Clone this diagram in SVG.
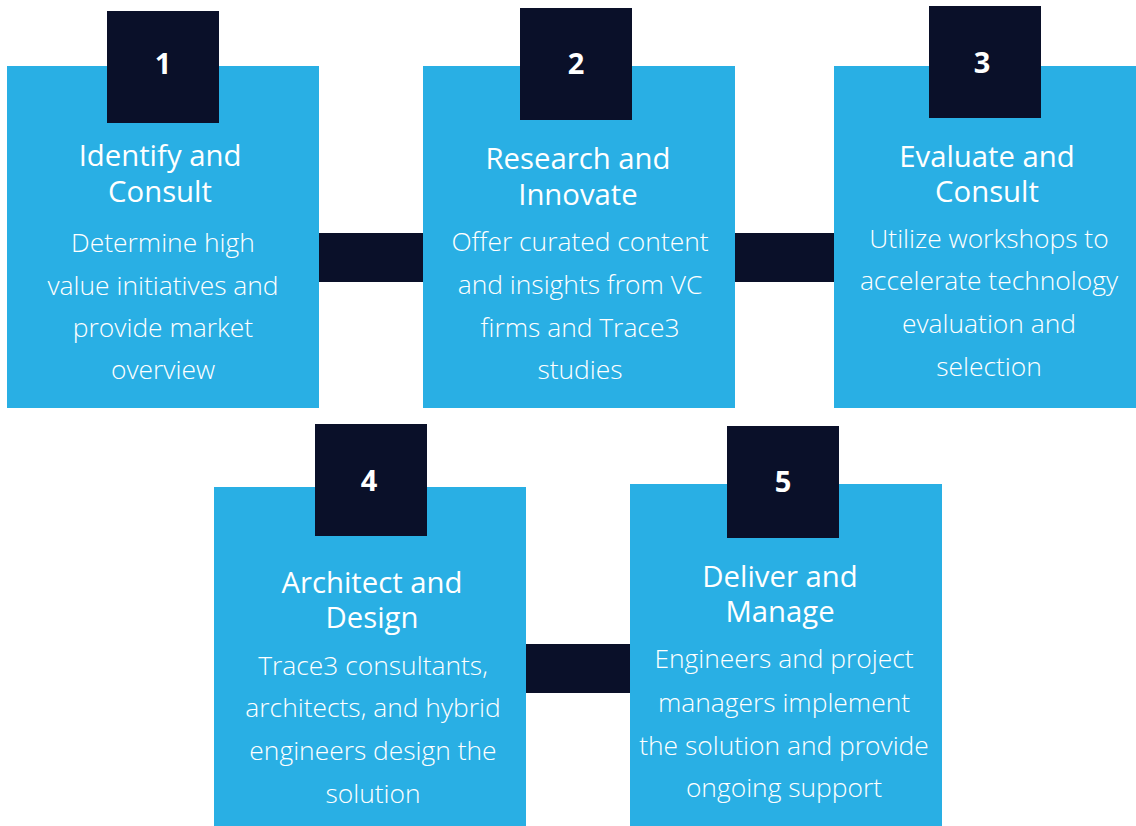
<svg xmlns="http://www.w3.org/2000/svg" width="1136" height="826" viewBox="0 0 1136 826">
<style>
.box{fill:#29AFE4}
.badge{fill:#0A1029}
.conn{fill:#0A1029}
.num{font-family:"Open Sans","Liberation Sans",sans-serif;font-weight:700;font-size:29px;fill:#fff;text-anchor:middle}
.title{font-family:"Open Sans","Liberation Sans",sans-serif;font-weight:400;font-size:29.3px;fill:#fff;text-anchor:middle}
.body{font-family:"Open Sans","Liberation Sans",sans-serif;font-weight:300;font-size:26.4px;fill:#fff;text-anchor:middle}
</style>
<rect width="1136" height="826" fill="#fff"/>
<g id="connectors">
<rect class="conn" x="319" y="233" width="104" height="49"/>
<rect class="conn" x="735" y="233" width="99" height="49"/>
<rect class="conn" x="526" y="644" width="104" height="49"/>
</g>
<g id="node1">
<rect class="box" x="7" y="66" width="312" height="342"/>
<rect class="badge" x="107" y="11" width="112" height="112"/>
<text class="num" x="163" y="74">1</text>
<text class="title" x="160" y="166">Identify and</text>
<text class="title" x="160" y="202">Consult</text>
<text class="body" x="163" y="252">Determine high</text>
<text class="body" x="163" y="295">value initiatives and</text>
<text class="body" x="163" y="337">provide market</text>
<text class="body" x="163" y="379">overview</text>
</g>
<g id="node2">
<rect class="box" x="423" y="66" width="312" height="342"/>
<rect class="badge" x="520" y="8" width="112" height="112"/>
<text class="num" x="576" y="74">2</text>
<text class="title" x="578" y="169">Research and</text>
<text class="title" x="578" y="205">Innovate</text>
<text class="body" x="580" y="251">Offer curated content</text>
<text class="body" x="580" y="294">and insights from VC</text>
<text class="body" x="580" y="337">firms and Trace3</text>
<text class="body" x="580" y="379">studies</text>
</g>
<g id="node3">
<rect class="box" x="834" y="66" width="312" height="342"/>
<rect class="badge" x="929" y="6" width="112" height="112"/>
<text class="num" x="982" y="73">3</text>
<text class="title" x="987" y="167">Evaluate and</text>
<text class="title" x="987" y="202">Consult</text>
<text class="body" x="989" y="248">Utilize workshops to</text>
<text class="body" x="989" y="290">accelerate technology</text>
<text class="body" x="989" y="333">evaluation and</text>
<text class="body" x="989" y="376">selection</text>
</g>
<g id="node4">
<rect class="box" x="214" y="487" width="312" height="339"/>
<rect class="badge" x="315" y="424" width="112" height="112"/>
<text class="num" x="369" y="491">4</text>
<text class="title" x="372" y="593">Architect and</text>
<text class="title" x="372" y="628">Design</text>
<text class="body" x="373" y="675">Trace3 consultants,</text>
<text class="body" x="373" y="717">architects, and hybrid</text>
<text class="body" x="373" y="760">engineers design the</text>
<text class="body" x="373" y="803">solution</text>
</g>
<g id="node5">
<rect class="box" x="630" y="484" width="312" height="342"/>
<rect class="badge" x="727" y="426" width="112" height="112"/>
<text class="num" x="783" y="492">5</text>
<text class="title" x="780" y="587">Deliver and</text>
<text class="title" x="780" y="622">Manage</text>
<text class="body" x="784" y="668">Engineers and project</text>
<text class="body" x="784" y="712">managers implement</text>
<text class="body" x="784" y="755">the solution and provide</text>
<text class="body" x="784" y="797">ongoing support</text>
</g>
</svg>
